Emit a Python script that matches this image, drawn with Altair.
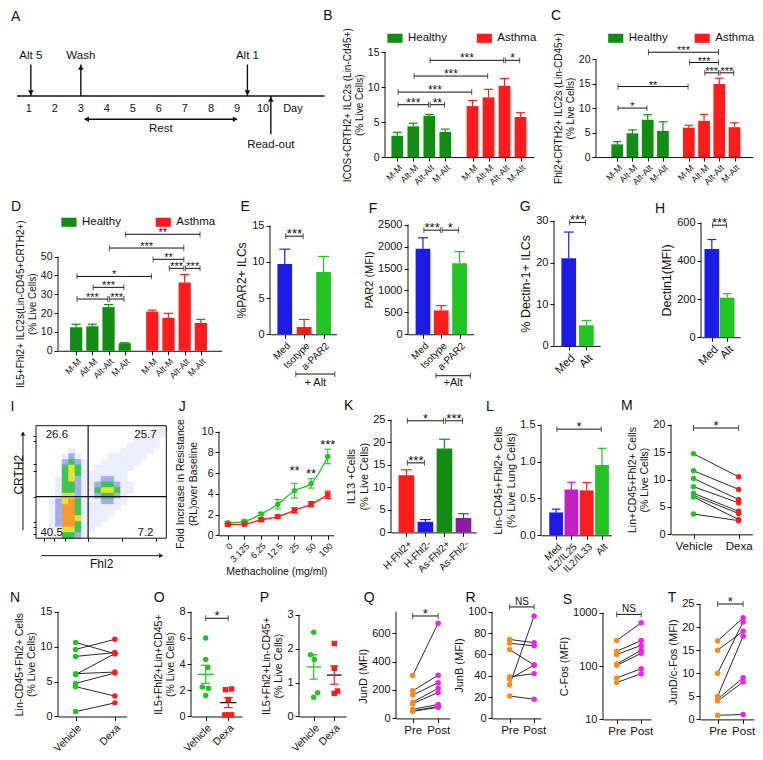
import json
import math
import altair as alt
import pandas as pd

S = 0.98      # horizontal scale from reference pixels
SY = 0.97     # vertical scale from reference pixels
FONT = "Liberation Sans"
INK = "#111111"
GREEN_D = "#128c12"
GREEN_L = "#22c422"
RED = "#ff1c1c"
BLUE = "#1c1ce6"
PURPLE = "#8a1c9e"
MAGENTA = "#c41ec4"
ORANGE = "#ff8a1c"
PINK = "#f21ef2"
DARK = "#2a0a0a"
GROUP_NAMES = ["Healthy", "Asthma"]

# ------------------------------------------------------------------ data
A_days = [1, 2, 3, 4, 5, 6, 7, 8, 9, 10]
A_event_labels = ["Alt 5", "Wash", "Alt 1", "Read-out"]
A_event_days = [1.08, 3.0, 9.4, 10.3]
A_event_head = ["triangle-down", "triangle-up", "triangle-down", "triangle-up"]
A_event_side = [1, 1, 1, -1]
A_rest_days = [3.15, 9.0]

BCD_labels = ["M-M", "Alt-M", "Alt-Alt", "M-Alt"] * 2
BCD_groups = ["Healthy"] * 4 + ["Asthma"] * 4
BCD_pos = [0, 1, 2, 3, 4.7, 5.7, 6.7, 7.7]

B_mean = [3.05, 4.4, 5.9, 3.6, 7.3, 8.55, 10.2, 5.75]
B_top = [3.55, 4.85, 6.1, 4.0, 8.1, 9.7, 11.25, 6.35]
B_brackets = [(0, 2, 7.5, "***"), (2, 3, 7.5, "**"), (0, 4, 9.3, "***"),
              (1, 5, 11.6, "***"), (2, 6, 13.85, "***"), (6, 7, 13.85, "*")]

C_mean = [2.6, 4.85, 7.6, 5.3, 6.0, 7.4, 14.9, 6.1]
C_top = [3.15, 5.55, 8.65, 7.2, 6.5, 8.7, 16.1, 7.0]
C_brackets = [(0, 2, 10.0, "*"), (0, 4, 14.4, "**"), (5, 6, 17.2, "***"),
              (6, 7, 17.2, "***"), (4, 6, 19.3, "***"), (2, 6, 21.4, "***")]

D_mean = [12.5, 13.0, 23.2, 4.0, 20.8, 17.5, 36.3, 14.8]
D_top = [14.1, 14.1, 24.6, 4.3, 21.6, 19.9, 40.5, 16.7]
D_brackets = [(0, 2, 27.5, "***"), (2, 3, 27.5, "***"), (1, 3, 33.7, "***"),
              (0, 4, 39.5, "*"), (5, 6, 43.8, "***"), (6, 7, 43.8, "***"),
              (4, 6, 48.6, "**"), (2, 6, 54.6, "***"), (3, 7, 61.9, "**")]

EF_labels = ["Med", "Isotype", "a-PAR2"]
EF_colors = [BLUE, RED, GREEN_L]
E_mean = [9.7, 1.0, 8.6]
E_top = [11.75, 2.05, 10.75]
E_brackets = [(0, 1, 13.55, "***")]
F_mean = [1950, 545, 1620]
F_top = [2200, 655, 1885]
F_brackets = [(0, 1, 2375, "***"), (1, 2, 2375, "*")]

GH_labels = ["Med", "Alt"]
GH_colors = [BLUE, GREEN_L]
G_mean = [21.0, 4.95]
G_top = [27.3, 6.1]
G_brackets = [(0, 1, 29.6, "***")]
H_mean = [462, 207]
H_top = [512, 228]
H_brackets = [(0, 1, 587, "***")]

I_quadrants = ["26.6", "25.7", "40.5", "7.2"]
I_gate = [40, 37]
I_colors = ["#eceefc", "#a3acf1", "#3cc454", "#e2e22e", "#f59a30"]
I_rows = [
    "00000000000000000011",
    "00000000000000000111",
    "00000000000000011110",
    "00000000000000111110",
    "00000100000001111100",
    "00001210000111111",
    "0000232100111111",
    "000034310111111",
    "00003431111111",
    "00013421112211",
    "000133211233211",
    "000133211344311",
    "00014421123321",
    "00124531112211",
    "0012553111111",
    "001255311111",
    "00125541111",
    "0012553111",
    "001144311",
    "00113321",
]

J_doses = ["0", "3.125", "6.25", "12.5", "25", "50", "100"]
J_series = ["CRTH2/FHL2+", "CRTH2/FHL2-"]
J_plus = [1.2, 1.35, 2.05, 3.0, 4.3, 5.0, 7.6]
J_plus_err = [0.08, 0.1, 0.15, 0.45, 0.7, 0.45, 0.7]
J_minus = [1.05, 1.08, 1.5, 1.8, 2.4, 3.0, 3.9]
J_minus_err = [0.1, 0.1, 0.12, 0.12, 0.25, 0.25, 0.35]
J_star_dose = [4, 5, 6]
J_star_text = ["**", "**", "***"]
J_star_y = [6.05, 5.7, 8.55]

K_labels = ["H-Fhl2+", "H-Fhl2-", "As-Fhl2+", "As-Fhl2-"]
K_colors = [RED, BLUE, GREEN_D, PURPLE]
K_mean = [12.7, 2.35, 18.65, 3.2]
K_top = [13.9, 2.85, 20.7, 4.15]
K_brackets = [(0, 1, 15.45, "***"), (0, 2, 24.8, "*"), (2, 3, 24.8, "***")]

L_labels = ["Med", "IL2/IL25", "IL2/IL33", "Alt"]
L_colors = [BLUE, MAGENTA, RED, GREEN_L]
L_mean = [0.31, 0.62, 0.61, 0.955]
L_top = [0.355, 0.72, 0.715, 1.18]
L_brackets = [(0, 3, 1.44, "*")]

VD_labels = ["Vehicle", "Dexa"]
PP_labels = ["Pre", "Post"]
M_vehicle = [14.7, 11.6, 10.2, 8.7, 7.5, 7.1, 6.8, 3.7]
M_dexa = [10.5, 8.2, 6.35, 5.75, 4.2, 3.8, 2.7, 2.5]
M_brackets = [(0, 1, 19.4, "*")]
N_vehicle = [10.6, 9.6, 8.6, 6.13, 6.0, 4.74, 4.27, 0.7]
N_dexa = [9.0, 11.05, 9.15, 6.36, 9.0, 6.22, 2.93, 1.95]

O_vehicle = [6.0, 4.35, 3.75, 2.25, 2.15, 1.6]
O_vehicle_jit = [0, 0, 0.1, -0.15, 0.12, 0]
O_dexa = [2.1, 2.05, 1.3, 0.12, 0.12, 0.12]
O_dexa_jit = [0.15, -0.12, 0, -0.15, 0.02, 0.15]
O_mean = [3.22, 1.06]
O_sem = [0.69, 0.38]
O_brackets = [(0, 1, 7.5, "*")]
P_vehicle = [2.48, 1.82, 1.68, 0.7, 0.57]
P_vehicle_jit = [0, -0.16, 0.03, 0.19, 0]
P_dexa = [2.15, 1.42, 0.75, 0.68]
P_dexa_jit = [0, 0, 0.16, 0]
P_mean = [1.46, 1.22]
P_sem = [0.36, 0.27]

Q_pre = [301, 194, 164, 114, 103, 64, 52, 50]
Q_post = [669, 304, 251, 212, 183, 98, 84, 78]
Q_brackets = [(0, 1, 720, "*")]
R_pre = [74, 70.5, 64.5, 39, 37, 31.5, 21]
R_post = [71, 68, 50, 42, 50, 96, 18]
R_brackets = [(0, 1, 104.5, "NS")]
S_pre = [300, 190, 165, 109, 103, 60, 49]
S_post = [650, 300, 244, 198, 173, 89, 72]
S_brackets = [(0, 1, 930, "NS")]
T_pre = [17, 15, 10, 5, 4.4, 4.0, 0.9]
T_post = [22, 19.1, 21.1, 18, 9, 8.1, 1.06]
T_brackets = [(0, 1, 25, "*")]

# ------------------------------------------------------------------ layout
ROW_TOP = [22, 210, 417, 608]
ROW_HEAD = [21, 16, 20, 16]     # room kept above each row's plots
LETTER_AT = {"A": (2, 9), "B": (320, 8), "C": (552, 8), "D": (2, 203), "E": (235, 203),
             "F": (365, 205), "G": (518, 203), "H": (655, 205), "I": (1, 408), "J": (172, 408),
             "K": (340, 407), "L": (484, 408), "M": (621, 407), "N": (1, 603), "O": (147, 603),
             "P": (255, 603), "Q": (360, 603), "R": (463, 603), "S": (562, 605), "T": (667, 603)}
ONE = pd.DataFrame({"k": [0]})


def gx(left, right, first_px, unit, first_pos=0.0):
    return {"w": (right - left) * S, "left": left,
            "xdom": [first_pos - (first_px - left) / unit, first_pos + (right - first_px) / unit]}


def gy(bot_px, top_px, v0, v1, row_top, log=False):
    h = bot_px - row_top
    if log:
        l0, l1 = math.log10(v0), math.log10(v1)
        per = (bot_px - top_px) / (l1 - l0)
        dom = [v0, 10 ** (l0 + h / per)]
    else:
        per = (bot_px - top_px) / (v1 - v0)
        dom = [v0, v0 + h / per]
    return {"h": h * SY, "ydom": dom, "ty": (h - (bot_px - top_px) / 2) * SY, "top": row_top}


def geo(xg, yg):
    d = dict(xg)
    d.update(yg)
    return d


class Pan:
    def __init__(self, g, ax, ay, log=False):
        self.g, self.ax, self.ay, self.log = g, ax, ay, log

    def sx(self):
        return alt.Scale(domain=self.g["xdom"], nice=False, zero=False)

    def sy(self):
        if self.log:
            return alt.Scale(type="log", domain=self.g["ydom"], nice=False)
        return alt.Scale(domain=self.g["ydom"], nice=False, zero=False)

    def x(self, f):
        return alt.X(f, type="quantitative", scale=self.sx(), axis=self.ax)

    def y(self, f):
        return alt.Y(f, type="quantitative", scale=self.sy(), axis=self.ay)

    def xd(self, v):
        return alt.XDatum(v, type="quantitative", scale=self.sx(), axis=self.ax)

    def yd(self, v):
        return alt.YDatum(v, type="quantitative", scale=self.sy(), axis=self.ay)


def letter(ch, g):
    lx, ly = LETTER_AT[ch]
    return alt.Chart(ONE).mark_text(text=ch, fontSize=14, font=FONT, color=INK, align="left",
                                    baseline="middle").encode(
        x=alt.value((lx - g["left"]) * S), y=alt.value((ly - g["top"]) * SY))


def xaxis(pos, labels, fs, angle=-45, title=None, tfs=10.5):
    expr = json.dumps(labels) + "[indexof(" + json.dumps(pos) + ", datum.value)]"
    kw = dict(values=pos, labelExpr=expr, grid=False, domain=True, domainColor=INK, domainWidth=1,
              ticks=True, tickColor=INK, tickSize=4, tickWidth=1, labelColor=INK, labelFont=FONT,
              labelFontSize=fs, labelAngle=angle, labelPadding=2, labelOverlap=False,
              labelFlush=False, titleFont=FONT, titleFontSize=tfs, titleFontWeight="normal",
              titleColor=INK, titlePadding=3, title=title)
    if angle != 0:
        kw.update(labelAlign="right", labelBaseline="top")
    else:
        kw.update(labelAlign="center", labelBaseline="top")
    return alt.Axis(**kw)


def yaxis(ticks, title, fs, tfs, ty, fmt=None):
    kw = dict(values=ticks, title=title, grid=False, domain=False, ticks=True, tickColor=INK,
              tickSize=4, tickWidth=1, labelColor=INK, labelFont=FONT, labelFontSize=fs,
              labelPadding=2, labelOverlap=False, labelFlush=False, titleFont=FONT,
              titleFontSize=tfs, titleFontWeight="normal", titleColor=INK, titlePadding=3,
              titleY=ty)
    if fmt:
        kw["format"] = fmt
    return alt.Axis(**kw)


def yline(p, v0, v1):
    return alt.Chart(ONE).mark_rule(color=INK, strokeWidth=1).encode(
        x=alt.value(0), y=p.yd(v0), y2=alt.datum(v1))


def bracket_layers(p, brs, pos, fs=13, dy=2, inset=0.05, tick=6):
    df = pd.DataFrame({
        "x1": [pos[a] + inset for a, b, yv, t in brs],
        "x2": [pos[b] - inset for a, b, yv, t in brs],
        "y": [yv for a, b, yv, t in brs],
        "t": [t for a, b, yv, t in brs],
    })
    base = alt.Chart(df)
    line = base.mark_rule(color=INK, strokeWidth=1).encode(x=p.x("x1"), x2="x2", y=p.y("y"))
    ends = base.transform_fold(["x1", "x2"], as_=["k", "xe"]).mark_tick(
        orient="vertical", size=tick * SY, thickness=1, color=INK).encode(x=p.x("xe"), y=p.y("y"))
    txt = base.transform_calculate(xm="(datum.x1+datum.x2)/2").mark_text(
        fontSize=fs, font=FONT, baseline="alphabetic", dy=dy, color=INK).encode(
        x=p.x("xm"), y=p.y("y"), text="t:N")
    return [line, ends, txt]


def err_layers(p, df, cap=0.28, sw=1.2):
    base = alt.Chart(df)
    r = base.mark_rule(strokeWidth=sw).encode(
        x=p.x("x"), y=p.y("v"), y2="e", stroke=alt.Stroke("c:N", scale=None))
    c = base.transform_calculate(xl="datum.x-%f" % cap, xr="datum.x+%f" % cap).mark_rule(
        strokeWidth=sw).encode(x=p.x("xl"), x2="xr", y=p.y("e"), stroke=alt.Stroke("c:N", scale=None))
    return [r, c]


def grp_legend(lx, ly, cp):
    return alt.Legend(orient="none", legendX=lx * S, legendY=ly * SY, direction="horizontal",
                      title=None, symbolType="M-1,-0.6L1,-0.6L1,0.6L-1,0.6Z", symbolSize=230,
                      symbolStrokeWidth=0, labelFont=FONT, labelFontSize=11.5, labelColor=INK,
                      columnPadding=cp * S, labelOffset=5)


def bar_panel(ch, g, pos, labels, means, tops, colors, brs, yticks, ytitle, fs, tfs,
              xfs, bar_w, groups=None, legend=None, fmt=None, cap=0.28, extra=None, star_fs=13):
    ax = xaxis(pos, labels, xfs)
    ay = yaxis(yticks, ytitle, fs, tfs, g["ty"], fmt)
    p = Pan(g, ax, ay)
    df = pd.DataFrame({"x": pos, "v": means, "e": tops, "c": colors})
    if groups is not None:
        df["g"] = groups
        fill = alt.Fill("g:N", scale=alt.Scale(domain=GROUP_NAMES, range=[GREEN_D, RED]), legend=legend)
    else:
        fill = alt.Fill("c:N", scale=None)
    bars = alt.Chart(df).mark_bar(size=bar_w * S).encode(x=p.x("x"), y=p.y("v"), fill=fill)
    layers = [bars] + err_layers(p, df, cap) + bracket_layers(p, brs, pos, star_fs) + [
        yline(p, yticks[0], yticks[-1]), letter(ch, g)]
    if extra is not None:
        layers += extra(p)
    return alt.layer(*layers).properties(width=g["w"], height=g["h"])


def treat_bracket(x1, x2, yl, yt, label):
    def f(p):
        df = pd.DataFrame({"x1": [x1], "x2": [x2], "y": [yl], "yt": [yt], "t": [label]})
        b = alt.Chart(df)
        return [
            b.mark_rule(color=INK, strokeWidth=1).encode(x=p.x("x1"), x2="x2", y=p.y("y")),
            b.transform_fold(["x1", "x2"], as_=["k", "xe"]).mark_tick(
                orient="vertical", size=6 * SY, thickness=1, color=INK).encode(x=p.x("xe"), y=p.y("y")),
            b.transform_calculate(xm="(datum.x1+datum.x2)/2").mark_text(
                font=FONT, fontSize=11, color=INK, baseline="middle").encode(
                x=p.x("xm"), y=p.y("yt"), text="t:N"),
        ]
    return f


def paired_panel(ch, g, xlabels, a, b, ca, cb, brs, yticks, ytitle, fs, tfs, xfs, angle,
                 log=False, fmt=None, star_fs=13, star_dy=2, axis_top=None):
    ax = xaxis([0, 1], xlabels, xfs, angle)
    ay = yaxis(yticks, ytitle, fs, tfs, g["ty"], fmt)
    p = Pan(g, ax, ay, log)
    n = len(a)
    df = pd.DataFrame({"pid": list(range(n)) * 2, "x": [0] * n + [1] * n,
                       "v": list(a) + list(b), "c": [ca] * n + [cb] * n})
    lines = alt.Chart(df).mark_line(color=INK, strokeWidth=0.9).encode(
        x=p.x("x"), y=p.y("v"), detail="pid:N")
    pts = alt.Chart(df).mark_circle(size=30, opacity=1).encode(
        x=p.x("x"), y=p.y("v"), fill=alt.Fill("c:N", scale=None))
    layers = [lines, pts, yline(p, yticks[0], axis_top if axis_top else yticks[-1]), letter(ch, g)]
    if brs:
        layers += bracket_layers(p, brs, [0, 1], star_fs, star_dy, inset=0)
    return alt.layer(*layers).properties(width=g["w"], height=g["h"])


def dot_panel(ch, g, va, ja, vb, jb, means, sems, brs, yticks, ytitle, fs, tfs, xfs):
    ax = xaxis([0, 1], VD_labels, xfs, -45)
    ay = yaxis(yticks, ytitle, fs, tfs, g["ty"])
    p = Pan(g, ax, ay)
    df = pd.DataFrame({
        "x": [j for j in ja] + [1 + j for j in jb],
        "v": list(va) + list(vb),
        "c": [GREEN_L] * len(va) + [RED] * len(vb),
        "sh": ["circle"] * len(va) + ["square"] * len(vb),
    })
    pts = alt.Chart(df).mark_point(filled=True, size=30, opacity=1).encode(
        x=p.x("x"), y=p.y("v"), fill=alt.Fill("c:N", scale=None), shape=alt.Shape("sh:N", scale=None))
    mdf = pd.DataFrame({"x": [0, 1], "m": means,
                        "lo": [m - s for m, s in zip(means, sems)],
                        "hi": [m + s for m, s in zip(means, sems)],
                        "c": [GREEN_L, RED], "mc": [GREEN_L, DARK]})
    mb = alt.Chart(mdf)
    mean_l = mb.transform_calculate(xl="datum.x-0.36", xr="datum.x+0.36").mark_rule(
        strokeWidth=1.3).encode(x=p.x("xl"), x2="xr", y=p.y("m"), stroke=alt.Stroke("mc:N", scale=None))
    sem_l = mb.mark_rule(strokeWidth=1.2).encode(
        x=p.x("x"), y=p.y("lo"), y2="hi", stroke=alt.Stroke("c:N", scale=None))
    caps = mb.transform_fold(["lo", "hi"], as_=["k", "ye"]).transform_calculate(
        xl="datum.x-0.2", xr="datum.x+0.2").mark_rule(strokeWidth=1.2).encode(
        x=p.x("xl"), x2="xr", y=p.y("ye"), stroke=alt.Stroke("c:N", scale=None))
    layers = [pts, mean_l, sem_l, caps, yline(p, yticks[0], yticks[-1]), letter(ch, g)]
    if brs:
        layers += bracket_layers(p, brs, [0, 1], 13, 2, inset=0)
    return alt.layer(*layers).properties(width=g["w"], height=g["h"])


# ------------------------------------------------------------------ panels
def panel_A():
    g = {"w": (322 - 8) * S, "left": 8, "top": 22,
         "xdom": [1 - (20 - 8) / 26.56, 1 + (322 - 20) / 26.56],
         "h": (153 - 22) * SY, "ydom": [(90 - 153) / 24, (90 - 22) / 24]}
    p = Pan(g, None, None)
    line = alt.Chart(ONE).mark_rule(color=INK, strokeWidth=1.6).encode(
        x=p.xd(g["xdom"][0]), x2=alt.datum(g["xdom"][1]), y=p.yd(0))
    ddf = pd.DataFrame({"d": A_days + [11.15], "y": [-0.55] * 11,
                        "t": [str(d) for d in A_days] + ["Day"]})
    days = alt.Chart(ddf).mark_text(fontSize=11, font=FONT, color=INK, baseline="middle").encode(
        x=p.x("d"), y=p.y("y"), text="t:N")
    rows = []
    for lab, d, hd, sd in zip(A_event_labels, A_event_days, A_event_head, A_event_side):
        top = 1.35 if sd > 0 else -1.65
        toward = (hd == "triangle-down" and sd > 0) or (hd == "triangle-up" and sd < 0)
        hy = 0.14 * sd if toward else top - 0.12 * sd
        ly = 1.72 if sd > 0 else -2.1
        rows.append({"d": d, "y0": 0.0, "y1": top, "hy": hy, "hd": hd, "ly": ly, "t": lab})
    edf = pd.DataFrame(rows)
    eb = alt.Chart(edf)
    shafts = eb.mark_rule(color=INK, strokeWidth=1.4).encode(x=p.x("d"), y=p.y("y0"), y2="y1")
    heads = eb.mark_point(filled=True, size=32, opacity=1, color=INK).encode(
        x=p.x("d"), y=p.y("hy"), shape=alt.Shape("hd:N", scale=None))
    elabs = eb.mark_text(fontSize=11.5, font=FONT, color=INK, baseline="middle").encode(
        x=p.x("d"), y=p.y("ly"), text="t:N")
    rdf = pd.DataFrame({"x1": [A_rest_days[0]], "x2": [A_rest_days[1]], "y": [-1.0],
                        "xm": [(A_rest_days[0] + A_rest_days[1]) / 2], "ly": [-1.42], "t": ["Rest"]})
    rb = alt.Chart(rdf)
    rest = rb.mark_rule(color=INK, strokeWidth=1.4).encode(x=p.x("x1"), x2="x2", y=p.y("y"))
    hdf = pd.DataFrame({"x": [A_rest_days[0] + 0.07, A_rest_days[1] - 0.07], "y": [-1.0, -1.0],
                        "s": ["triangle-left", "triangle-right"]})
    rheads = alt.Chart(hdf).mark_point(filled=True, size=30, opacity=1, color=INK).encode(
        x=p.x("x"), y=p.y("y"), shape=alt.Shape("s:N", scale=None))
    rlab = rb.mark_text(fontSize=11.5, font=FONT, color=INK, baseline="middle").encode(
        x=p.x("xm"), y=p.y("ly"), text="t:N")
    return alt.layer(line, days, shafts, heads, elabs, rest, rheads, rlab, letter("A", g)).properties(
        width=g["w"], height=g["h"])


def panel_I():
    g = geo({"w": 133 * S, "xdom": [0, 100], "left": 27}, gy(543, 427, 0, 100, 417))
    ax = alt.Axis(values=[6, 14, 22, 40, 66, 92], labels=False, title="Fhl2", domain=False,
                  grid=False, tickSize=3, tickColor=INK, titleFont=FONT, titleFontSize=12,
                  titleFontWeight="normal", titleColor=INK, titlePadding=17 * SY)
    ay = alt.Axis(values=[4, 10, 14, 37, 60, 66, 86, 91], labels=False, title="CRTH2",
                  domain=False, grid=False, tickSize=3, tickColor=INK, titleFont=FONT,
                  titleFontSize=12, titleFontWeight="normal", titleColor=INK, titlePadding=7,
                  titleY=(477 - 417) * SY)
    p = Pan(g, ax, ay)
    cells = []
    for r, row in enumerate(I_rows):
        for c, chv in enumerate(row.ljust(20, "0")[:20]):
            if chv != "0":
                cells.append({"x0": c * 5, "x1": c * 5 + 5, "y0": 100 - (r + 1) * 5,
                              "y1": 100 - r * 5, "lv": int(chv)})
    cdf = pd.DataFrame(cells)
    lvl = alt.Scale(domain=[1, 2, 3, 4, 5], range=I_colors)
    dens = alt.Chart(cdf).mark_rect(strokeWidth=0.7).encode(
        x=p.x("x0"), x2="x1", y=p.y("y0"), y2="y1",
        fill=alt.Fill("lv:O", scale=lvl, legend=None),
        stroke=alt.Stroke("lv:O", scale=lvl, legend=None))
    vgate = alt.Chart(ONE).mark_rule(color=INK, strokeWidth=1.2).encode(
        x=p.xd(I_gate[0]), y=p.yd(0), y2=alt.datum(100))
    hgate = alt.Chart(ONE).mark_rule(color=INK, strokeWidth=1.2).encode(
        x=p.xd(0), x2=alt.datum(100), y=p.yd(I_gate[1]))
    frame = alt.Chart(ONE).mark_rect(fillOpacity=0, stroke=INK, strokeWidth=1).encode(
        x=p.xd(0), x2=alt.datum(100), y=p.yd(0), y2=alt.datum(100))
    qdf = pd.DataFrame({"x": [16, 84, 12, 84], "y": [92, 92, 4.5, 4.5], "t": I_quadrants})
    qtxt = alt.Chart(qdf).mark_text(fontSize=11.5, font=FONT, color=INK, baseline="middle").encode(
        x=p.x("x"), y=p.y("y"), text="t:N")
    arr1 = alt.Chart(ONE).mark_rule(color=INK, strokeWidth=1).encode(
        x=p.xd(-10), y=p.yd(7), y2=alt.datum(93))
    arr2 = alt.Chart(ONE).mark_rule(color=INK, strokeWidth=1).encode(
        x=p.xd(4), x2=alt.datum(96), y=p.yd(-15.5))
    hdf = pd.DataFrame({"x": [-10, 96], "y": [93, -15.5], "s": ["triangle-up", "triangle-right"]})
    heads = alt.Chart(hdf).mark_point(filled=True, size=22, opacity=1, color=INK).encode(
        x=p.x("x"), y=p.y("y"), shape=alt.Shape("s:N", scale=None))
    return alt.layer(dens, vgate, hgate, frame, qtxt, arr1, arr2, heads, letter("I", g)).properties(
        width=g["w"], height=g["h"])


def panel_J():
    g = geo(gx(213, 330, 222, 17), gy(540, 433, 0, 10, 417))
    pos = list(range(len(J_doses)))
    ax = xaxis(pos, J_doses, 9, -45, title="Methacholine (mg/ml)", tfs=10.5)
    ay = yaxis([0, 2, 4, 6, 8, 10], ["Fold Increase in Resistance", "(RL)over Baseline"], 10.5, 10.5,
               g["ty"])
    p = Pan(g, ax, ay)
    n = len(pos)
    df = pd.DataFrame({"x": pos * 2, "v": J_plus + J_minus, "err": J_plus_err + J_minus_err,
                       "s": [J_series[0]] * n + [J_series[1]] * n})
    df["lo"] = df["v"] - df["err"]
    df["hi"] = df["v"] + df["err"]
    col = alt.Scale(domain=J_series, range=[GREEN_L, RED])
    leg = alt.Legend(orient="none", legendX=13 * S, legendY=3 * SY, title=None, labelFont=FONT,
                     labelFontSize=9, labelColor=INK, symbolSize=32, rowPadding=1, labelOffset=4)
    b = alt.Chart(df)
    lines = b.mark_line(strokeWidth=1.3, interpolate="monotone").encode(
        x=p.x("x"), y=p.y("v"), stroke=alt.Stroke("s:N", scale=col, legend=None))
    errs = b.mark_rule(strokeWidth=1.1).encode(
        x=p.x("x"), y=p.y("lo"), y2="hi", stroke=alt.Stroke("s:N", scale=col, legend=None))
    caps = b.transform_fold(["lo", "hi"], as_=["k", "ye"]).transform_calculate(
        xl="datum.x-0.2", xr="datum.x+0.2").mark_rule(strokeWidth=1.1).encode(
        x=p.x("xl"), x2="xr", y=p.y("ye"), stroke=alt.Stroke("s:N", scale=col, legend=None))
    pts = b.mark_point(filled=True, size=30, opacity=1).encode(
        x=p.x("x"), y=p.y("v"), fill=alt.Fill("s:N", scale=col, legend=leg),
        shape=alt.Shape("s:N", scale=alt.Scale(domain=J_series, range=["circle", "square"]), legend=leg))
    sdf = pd.DataFrame({"x": J_star_dose, "y": J_star_y, "t": J_star_text})
    stars = alt.Chart(sdf).mark_text(fontSize=13, font=FONT, color=INK, baseline="alphabetic", dy=2).encode(
        x=p.x("x"), y=p.y("y"), text="t:N")
    return alt.layer(lines, errs, caps, pts, stars, yline(p, 0, 10), letter("J", g)).properties(
        width=g["w"], height=g["h"])


def indep(c):
    return c.resolve_scale(fill="independent", stroke="independent", shape="independent").resolve_legend(
        fill="independent", stroke="independent", shape="independent")


def build():
    A = panel_A()
    B = bar_panel("B", geo(gx(383, 535, 391, 17.5), gy(153, 45, 0, 15, 22)), BCD_pos, BCD_labels,
                  B_mean, B_top, [GREEN_D] * 4 + [RED] * 4, B_brackets, [0, 5, 10, 15],
                  ["ICOS+CRTH2+ ILC2s (Lin-Cd45+)", "(% Live Cells)"], 10.5, 10, 9, 12,
                  groups=BCD_groups, legend=grp_legend(2, 0, 30), star_fs=12)
    C = bar_panel("C", geo(gx(598, 758, 615.7, 16.6), gy(153, 52, 0, 20, 22)), BCD_pos, BCD_labels,
                  C_mean, C_top, [GREEN_D] * 4 + [RED] * 4, C_brackets, [0, 5, 10, 15, 20],
                  ["Fhl2+CRTH2+ ILC2s (Lin-CD45+)", "(% Live Cells)"], 10.5, 10, 9, 12,
                  groups=BCD_groups, legend=grp_legend(12, 0, 27), star_fs=11)
    D = bar_panel("D", geo(gx(50, 217, 64.3, 17.6), gy(351, 254, 0, 50, 210)), BCD_pos, BCD_labels,
                  D_mean, D_top, [GREEN_D] * 4 + [RED] * 4, D_brackets, [0, 10, 20, 30, 40, 50],
                  ["IL5+Fhl2+ ILC2s(Lin-CD45+CRTH2+)", "(% Live Cells)"], 10.5, 10, 9, 12.5,
                  groups=BCD_groups, legend=grp_legend(3, 0, 35), star_fs=11)
    E = bar_panel("E", geo(gx(265, 333, 276.7, 23.3), gy(334, 222, 0, 15, 210)), [0, 1, 2], EF_labels,
                  E_mean, E_top, EF_colors, E_brackets, [0, 5, 10, 15], "%PAR2+ ILCs", 11, 12, 10, 15,
                  extra=treat_bracket(0.57, 2.58, -5.49, -6.7, "+ Alt"))
    F = bar_panel("F", geo(gx(405, 472, 417, 22), gy(334, 221, 0, 2500, 210)), [0, 1, 2], EF_labels,
                  F_mean, F_top, EF_colors, F_brackets, [0, 500, 1000, 1500, 2000, 2500], "PAR2 (MFI)",
                  11, 11, 10, 15, fmt="d", extra=treat_bracket(0.71, 2.59, -945, -1106, "+Alt"))
    G = bar_panel("G", geo(gx(553, 600, 565.7, 23), gy(346, 217, 0, 30, 210)), [0, 1], GH_labels,
                  G_mean, G_top, GH_colors, G_brackets, [0, 10, 20, 30], "% Dectin-1+ ILCs", 11, 12.5,
                  11.5, 15)
    H = bar_panel("H", geo(gx(702, 742, 710, 21), gy(337, 219, 0, 600, 210)), [0, 1], GH_labels,
                  H_mean, H_top, GH_colors, H_brackets, [0, 200, 400, 600], "Dectin1(MFI)", 11, 12.5,
                  11.5, 15)
    I = panel_I()
    J = panel_J()
    K = bar_panel("K", geo(gx(388, 475, 400, 22), gy(537, 421, 0, 25, 417)), [0, 1, 2, 3], K_labels,
                  K_mean, K_top, K_colors, K_brackets, [0, 5, 10, 15, 20, 25],
                  ["IL13 +Cells", "(% Live Cells)"], 11, 11, 10, 16)
    L = bar_panel("L", geo(gx(540, 612, 552, 18.2), gy(540, 426, 0, 1.5, 417)), [0, 1, 2, 3], L_labels,
                  L_mean, L_top, L_colors, L_brackets, [0, 0.5, 1.0, 1.5],
                  ["Lin-CD45+Fhl2+ Cells", "(% Live Lung Cells)"], 11, 11, 10, 14, fmt=".1f")
    M = paired_panel("M", geo(gx(672, 755, 695, 46), gy(539, 426, 0, 20, 417)), VD_labels,
                     M_vehicle, M_dexa, GREEN_L, RED, M_brackets, [0, 5, 10, 15, 20],
                     ["Lin+CD45+Fhl2+ Cells", "(% Live Cells)"], 11, 10.5, 11.5, 0)
    N = paired_panel("N", geo(gx(50, 120, 68, 40), gy(725, 617, 0, 15, 608)), VD_labels,
                     N_vehicle, N_dexa, GREEN_L, RED, [], [0, 5, 10, 15],
                     ["Lin-CD45+Fhl2+ Cells", "(% Live Cells)"], 11, 10.5, 10.5, -45)
    O = dot_panel("O", geo(gx(185, 237, 200, 23), gy(725, 617, 0, 8, 608)), O_vehicle, O_vehicle_jit,
                  O_dexa, O_dexa_jit, O_mean, O_sem, O_brackets, [0, 2, 4, 6, 8],
                  ["IL5+Fhl2+Lin+CD45+", "(% Live Cells)"], 11, 10.5, 10.5)
    P = dot_panel("P", geo(gx(295, 343, 310, 21), gy(725, 620, 0, 3, 608)), P_vehicle, P_vehicle_jit,
                  P_dexa, P_dexa_jit, P_mean, P_sem, [], [0, 1, 2, 3],
                  ["IL5+Fhl2+Lin-CD45+", "(% Live Cells)"], 11, 10.5, 10.5)
    Q = paired_panel("Q", geo(gx(393, 448, 410, 26), gy(727, 639, 0, 600, 608)), PP_labels,
                     Q_pre, Q_post, ORANGE, PINK, Q_brackets, [0, 200, 400, 600], "JunD (MFI)",
                     11, 11, 11.5, 0, axis_top=750)
    R = paired_panel("R", geo(gx(490, 540, 508, 25), gy(727, 617, 0, 100, 608)), PP_labels,
                     R_pre, R_post, ORANGE, PINK, R_brackets, [0, 20, 40, 60, 80, 100], "JunB (MFI)",
                     11, 11, 11.5, 0, star_fs=10, star_dy=-2)
    Sx = paired_panel("S", geo(gx(603, 652, 617, 25), gy(728, 618, 10, 1000, 608, log=True)), PP_labels,
                      S_pre, S_post, ORANGE, PINK, S_brackets, [10, 100, 1000], "C-Fos (MFI)",
                      11, 11, 11.5, 0, log=True, fmt="d", star_fs=10, star_dy=-2)
    T = paired_panel("T", geo(gx(700, 755, 718, 26), gy(728, 609, 0, 25, 608)), PP_labels,
                     T_pre, T_post, ORANGE, PINK, T_brackets, [0, 5, 10, 15, 20, 25], "JunD/c-Fos (MFI)",
                     11, 11, 11.5, 0)

    def sp(w, h=4, head=0):
        return alt.Chart(ONE).mark_point(opacity=0, size=1).encode(
            x=alt.value(0), y=alt.value(-head)).properties(width=max(w, 0.5), height=h)

    def row(items, height, head):
        charts = [sp(items[0][0] * S, height, head)]
        prev = None
        for left, right, chv in items:
            if prev is not None:
                charts.append(sp((left - prev) * S))
            charts.append(chv)
            prev = right
        return indep(alt.hconcat(*charts, spacing=0, bounds="flush"))

    heights = []
    for k in range(3):
        heights.append((ROW_TOP[k + 1] - ROW_TOP[k]) * SY - ROW_HEAD[k + 1])
    heights.append(10)

    r1 = row([(8, 322, A), (383, 535, B), (598, 758, C)], heights[0], ROW_HEAD[0])
    r2 = row([(50, 217, D), (265, 333, E), (405, 472, F), (553, 600, G), (702, 742, H)],
             heights[1], ROW_HEAD[1])
    r3 = row([(27, 160, I), (213, 330, J), (388, 475, K), (540, 612, L), (672, 755, M)],
             heights[2], ROW_HEAD[2])
    r4 = row([(50, 120, N), (185, 237, O), (295, 343, P), (393, 448, Q), (490, 540, R),
              (603, 652, Sx), (700, 755, T)], heights[3], ROW_HEAD[3])
    return indep(alt.vconcat(r1, r2, r3, r4, spacing=0, bounds="full", padding=0))


chart = build().configure(font=FONT).configure_view(stroke=None)
chart.save("out.html", embed_options={"renderer": "svg", "actions": False})
